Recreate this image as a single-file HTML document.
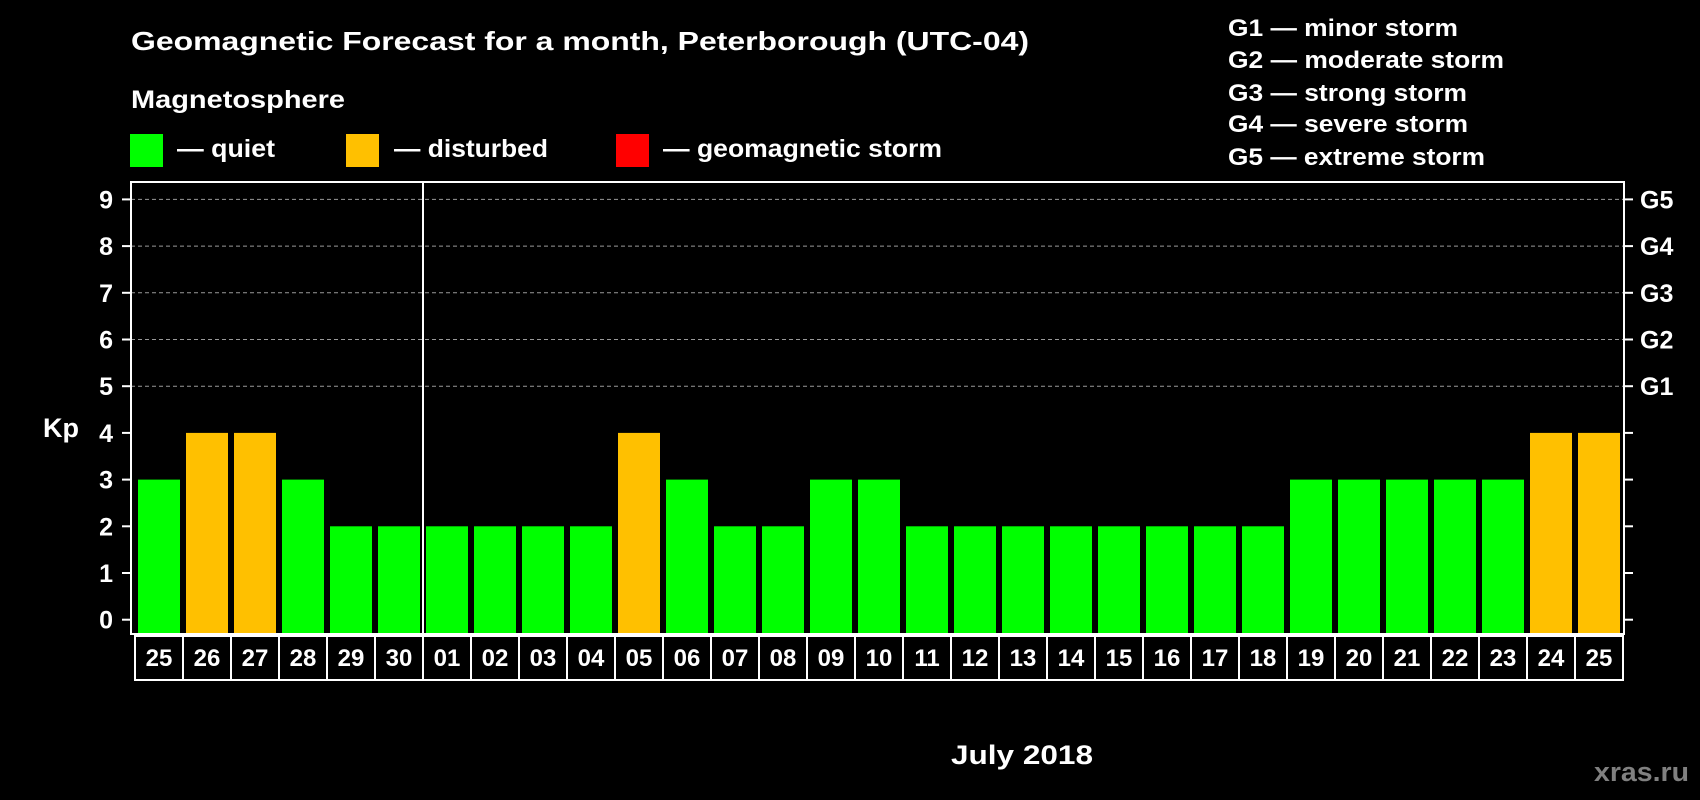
<!DOCTYPE html>
<html><head><meta charset="utf-8"><style>
html,body{margin:0;padding:0;background:#000;width:1700px;height:800px;overflow:hidden}
svg{display:block;font-family:"Liberation Sans",Arial,sans-serif;font-weight:bold}
</style></head><body>
<svg id="chart" width="1700" height="800" viewBox="0 0 1700 800" xmlns="http://www.w3.org/2000/svg">
<rect width="1700" height="800" fill="#000"/>
<text x="131" y="50" fill="#fff" font-size="26" textLength="898" lengthAdjust="spacingAndGlyphs">Geomagnetic Forecast for a month, Peterborough (UTC-04)</text>
<text x="131" y="108" fill="#fff" font-size="25" textLength="214" lengthAdjust="spacingAndGlyphs">Magnetosphere</text>
<rect x="130" y="134" width="33" height="33" fill="#00ff00"/>
<text x="177" y="157" fill="#fff" font-size="25" textLength="98" lengthAdjust="spacingAndGlyphs">— quiet</text>
<rect x="346" y="134" width="33" height="33" fill="#ffc000"/>
<text x="394" y="157" fill="#fff" font-size="25" textLength="154" lengthAdjust="spacingAndGlyphs">— disturbed</text>
<rect x="616" y="134" width="33" height="33" fill="#ff0000"/>
<text x="663" y="157" fill="#fff" font-size="25" textLength="279" lengthAdjust="spacingAndGlyphs">— geomagnetic storm</text>
<g fill="#fff" font-size="24">
<text x="1228" y="36" textLength="230" lengthAdjust="spacingAndGlyphs">G1 — minor storm</text>
<text x="1228" y="68" textLength="276" lengthAdjust="spacingAndGlyphs">G2 — moderate storm</text>
<text x="1228" y="101" textLength="239" lengthAdjust="spacingAndGlyphs">G3 — strong storm</text>
<text x="1228" y="132" textLength="240" lengthAdjust="spacingAndGlyphs">G4 — severe storm</text>
<text x="1228" y="165" textLength="257" lengthAdjust="spacingAndGlyphs">G5 — extreme storm</text>
</g>
<text x="43" y="437" fill="#fff" font-size="27">Kp</text>
<text x="951" y="764" fill="#fff" font-size="27" textLength="142" lengthAdjust="spacingAndGlyphs">July 2018</text>
<text x="1594" y="781" fill="#808080" font-size="27" textLength="95" lengthAdjust="spacingAndGlyphs">xras.ru</text>
<g id="plot"></g>
</svg>
<script>
const dates = ["25","26","27","28","29","30","01","02","03","04","05","06","07","08","09","10","11","12","13","14","15","16","17","18","19","20","21","22","23","24","25"];
const kpValues = [3,4,4,3,2,2,2,2,2,2,4,3,2,2,3,3,2,2,2,2,2,2,2,2,3,3,3,3,3,4,4];
const yTicks = [0,1,2,3,4,5,6,7,8,9];
const gLevels = [5,6,7,8,9];
const gLabels = ["G1","G2","G3","G4","G5"];
const monthStartIndex = 6;

const NS = "http://www.w3.org/2000/svg";
const plot = document.getElementById("plot");
const pL = 131, pR = 1624, pT = 182, pB = 634;
const barStart = 138, pitch = 48, barW = 42;
function yScale(v){ return 619.7 - v * 46.7; }
function xScale(i){ return barStart + i * pitch; }
function mk(tag, attrs){ const e = document.createElementNS(NS, tag); for (const k in attrs) e.setAttribute(k, attrs[k]); plot.appendChild(e); return e; }

gLevels.forEach((v) => {
  const g = mk("line", {x1:pL, x2:pR, y1:yScale(v), y2:yScale(v), stroke:"#999", "stroke-width":1, "stroke-dasharray":"4,3"});
  
  
});
kpValues.forEach((v, i) => {
  const b = mk("rect", {x:xScale(i), y:yScale(v), width:barW, height:pB - yScale(v), fill: v >= 5 ? "#ff0000" : (v >= 4 ? "#ffc000" : "#00ff00")});
  
  
});
yTicks.forEach((v) => {
  const t = mk("line", {x1:122, x2:pL, y1:yScale(v), y2:yScale(v), stroke:"#fff", "stroke-width":2});
  
  
  const l = mk("text", {x:113, y:yScale(v) + 9, fill:"#fff", "font-size":25, "text-anchor":"end"});
  l.textContent = v;
  
  
  const r = mk("line", {x1:pR, x2:pR + 9, y1:yScale(v), y2:yScale(v), stroke:"#fff", "stroke-width":2});
  
  
});
gLevels.forEach((v, i) => {
  const l = mk("text", {x:1640, y:yScale(v) + 9, fill:"#fff", "font-size":25});
  l.textContent = gLabels[i];
  
  
});
const div = mk("line", {x1:xScale(monthStartIndex) - 3, x2:xScale(monthStartIndex) - 3, y1:pT, y2:pB, stroke:"#fff", "stroke-width":2});


const frame = mk("rect", {x:pL, y:pT, width:pR - pL, height:pB - pT, fill:"none", stroke:"#fff", "stroke-width":2});


dates.forEach((d, i) => {
  const bx = mk("rect", {x:xScale(i) - 3, y:636, width:pitch, height:44, fill:"none", stroke:"#fff", "stroke-width":2});
  
  
  const t = mk("text", {x:xScale(i) + barW / 2, y:666, fill:"#fff", "font-size":24, "text-anchor":"middle"});
  t.textContent = d;
  
  
});
</script>
</body></html>
